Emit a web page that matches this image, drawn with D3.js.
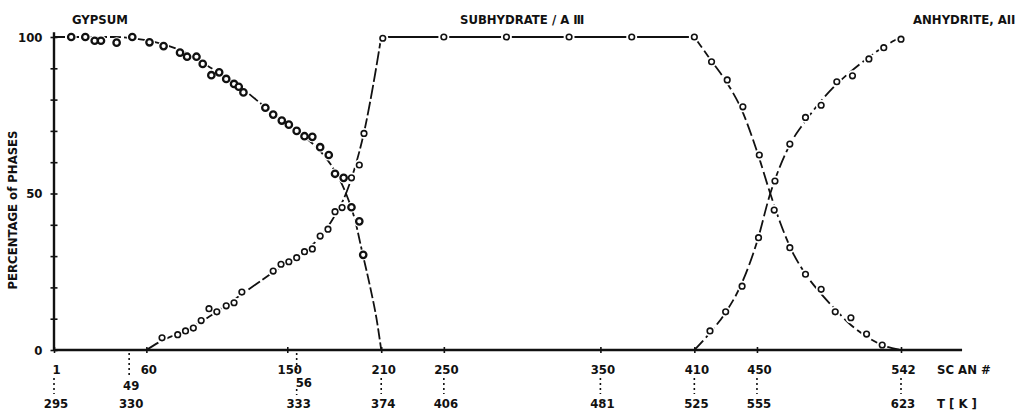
<!DOCTYPE html>
<html>
<head>
<meta charset="utf-8">
<script src="https://cdn.jsdelivr.net/npm/d3@7"></script>
<style>
  body { margin: 0; background: #fff; }
  text { font-family: 'DejaVu Sans Condensed', 'DejaVu Sans', sans-serif; font-stretch: condensed; font-weight: bold; fill: #111; }
</style>
</head>
<body>
<div id="chart"></div>
<script>
// ---- data ----
// measured points (scan number, % phase)
const gypsumScans = [12, 21, 27, 31, 41, 51, 62, 71, 81.5, 86, 92, 96, 101.5, 106.5, 111, 116, 119, 122, 136, 141, 146.5, 151, 156, 161, 166, 171, 176.5, 180.5, 186, 191, 196, 198.5];
const gypsumPct   = [100, 100, 98.8, 98.8, 98.2, 100, 98.3, 97.1, 95, 93.7, 93.7, 91.4, 87.8, 88.7, 86.6, 85, 84.1, 82.3, 77.4, 75.2, 73.3, 72, 70, 68.3, 68.1, 64.8, 62.3, 56.3, 55, 45.6, 41.1, 30.4];

const subScans = [70, 80, 85, 90, 95, 100, 105, 111, 116, 121, 141, 146, 151, 156, 161, 166, 171, 176, 180.5, 185, 191, 196, 199, 211, 250, 290, 330, 370, 410, 421, 431, 441, 451.5, 461, 471, 481, 491, 500, 510, 520, 530];
const subPct   = [3.9, 4.9, 6.1, 7, 9.4, 13.2, 12.2, 14.1, 15.1, 18.5, 25.2, 27.4, 28.2, 29.5, 31.4, 32.3, 36.4, 38.6, 44.2, 45.5, 55, 59.1, 69.2, 99.6, 100, 100, 100, 100, 100, 92.1, 86.3, 77.7, 62.3, 44.7, 32.7, 24.2, 19.4, 12.2, 10.3, 5.1, 1.6];

const anhScans = [420, 430, 440.5, 451, 461.5, 471, 481, 491, 501, 511, 521.5, 531, 542];
const anhPct   = [6.1, 12.2, 20.4, 35.9, 54, 65.8, 74.3, 78.2, 85.7, 87.6, 93, 96.6, 99.3];

// hand-drawn fit curves
const gypsumFitScans = [1, 40, 55, 70, 85, 100, 115, 130, 145, 160, 172, 180, 187.5, 193, 198, 203, 207, 210];
const gypsumFitPct   = [100, 100, 99.3, 97.8, 95, 90.5, 86, 80, 74, 68.5, 63, 57.5, 50, 42, 31, 20, 10, 0];

const subRiseScans = [60, 70, 80, 90, 100, 110, 120, 130, 140, 150, 160, 170, 178, 187.5, 193, 199, 205, 210];
const subRisePct   = [0, 3, 5.2, 7.6, 10.6, 14, 17.5, 21, 24.5, 28, 31.5, 35.5, 41, 50, 58, 69.5, 85, 100];
const subFlatScans = [210, 410];
const subFlatPct   = [100, 100];
const subFallScans = [410, 420, 430, 440, 450, 458.5, 465, 472, 480, 490, 500, 510, 520, 530, 542];
const subFallPct   = [100, 93, 86, 77, 63.5, 50, 40.5, 32, 25, 18.5, 13, 8, 4.3, 1.6, 0];

const anhFitScans = [410, 420, 430, 440, 450, 458.5, 465, 472, 480, 490, 500, 510, 520, 530, 542];
const anhFitPct   = [0, 5.5, 12, 21, 34.5, 50, 59, 66.5, 72.5, 79, 84.5, 89, 93, 96.6, 100];

// axes labels
const scanTicks  = [1, 60, 150, 210, 250, 350, 410, 450, 542];
const extraScans = [49, 156];
const extraLabels = ["49", "56"];
const tempScans  = [1, 49, 156, 210, 250, 350, 410, 450, 542];
const tempLabels = ["295", "330", "333", "374", "406", "481", "525", "555", "623"];
const pctTicks   = d3.range(0, 101, 10);
const pctLabels  = [0, 50, 100];

const phaseNames = ["GYPSUM", "SUBHYDRATE / A Ⅲ", "ANHYDRITE, AII"];

// ---- canvas ----
const width = 1027, height = 415;
const svg = d3.select("#chart").append("svg")
    .attr("width", width)
    .attr("height", height)
    .style("display", "block");

const x = d3.scaleLinear().domain([1, 542]).range([54, 901]);
const y = d3.scaleLinear().domain([0, 100]).range([350, 37]);
const axisEndScan = 581;

const line = d3.line()
    .x(d => x(d[0]))
    .y(d => y(d[1]))
    .curve(d3.curveMonotoneX);
const zipPts = (a, b) => a.map((v, i) => [v, b[i]]);

// fit curves
const fits = [
    [gypsumFitScans, gypsumFitPct, "11,3"],
    [subRiseScans, subRisePct, "14,3"],
    [subFlatScans, subFlatPct, null],
    [subFallScans, subFallPct, "13,4"],
    [anhFitScans, anhFitPct, "13,4"]
];
svg.append("g")
    .selectAll("path")
    .data(fits)
    .enter().append("path")
    .attr("d", d => line(zipPts(d[0], d[1])))
    .attr("fill", "none")
    .attr("stroke", "#111")
    .attr("stroke-width", 1.8)
    .attr("stroke-dasharray", d => d[2]);

// white halos so the lines break around each measured point
const allPts = zipPts(gypsumScans, gypsumPct)
    .concat(zipPts(subScans, subPct))
    .concat(zipPts(anhScans, anhPct));
svg.append("g")
    .selectAll("circle")
    .data(allPts)
    .enter().append("circle")
    .attr("cx", d => x(d[0]))
    .attr("cy", d => y(d[1]))
    .attr("r", 5.5)
    .attr("fill", "#fff");

// ---- axes ----
svg.append("line")
    .attr("x1", x(1)).attr("x2", x(axisEndScan))
    .attr("y1", y(0)).attr("y2", y(0))
    .attr("stroke", "#111").attr("stroke-width", 2.4);
svg.append("line")
    .attr("x1", x(1)).attr("x2", x(1))
    .attr("y1", y(101.5)).attr("y2", y(0))
    .attr("stroke", "#111").attr("stroke-width", 2.4);

const yAxis = svg.append("g")
    .attr("transform", `translate(${x(1)},0)`)
    .call(d3.axisLeft(y).tickValues(pctTicks).tickSize(3.5).tickPadding(8)
        .tickFormat(d => pctLabels.includes(d) ? d : ""));
yAxis.select(".domain").remove();
yAxis.selectAll(".tick line").attr("x1", 3.5).attr("stroke", "#111").attr("stroke-width", 1.6);
yAxis.selectAll("text").style("font-size", "13px");

const xAxis = svg.append("g")
    .attr("transform", `translate(0,${y(0)})`)
    .call(d3.axisBottom(x).tickValues(scanTicks).tickSize(3).tickPadding(12));
xAxis.select(".domain").remove();
xAxis.selectAll(".tick line").attr("y1", -3).attr("stroke", "#111").attr("stroke-width", 1.6);
xAxis.selectAll("text").style("font-size", "13px").attr("dx", 2);

// second-row scan labels
svg.append("g")
    .selectAll("text")
    .data(extraScans)
    .enter().append("text")
    .attr("x", (d, i) => i === 0 ? x(d) + 2 : x(d) - 1)
    .attr("y", (d, i) => i === 0 ? 390 : 387)
    .attr("text-anchor", (d, i) => i === 0 ? "middle" : "start")
    .style("font-size", "13px")
    .text((d, i) => extraLabels[i]);

// temperature labels
svg.append("g")
    .selectAll("text")
    .data(tempScans)
    .enter().append("text")
    .attr("x", d => x(d) + 2)
    .attr("y", 408)
    .attr("text-anchor", "middle")
    .style("font-size", "13px")
    .text((d, i) => tempLabels[i]);

// dotted leaders from scan number down to temperature
const leaders = tempScans.map(s => {
    if (s === 49) return [[s, 353, 376]];
    if (s === 156) return [[s, 353, 371], [s, 389, 395]];
    return [[s, 378, 394]];
}).flat();
svg.append("g")
    .selectAll("line")
    .data(leaders)
    .enter().append("line")
    .attr("x1", d => x(d[0])).attr("x2", d => x(d[0]))
    .attr("y1", d => d[1]).attr("y2", d => d[2])
    .attr("stroke", "#111")
    .attr("stroke-width", 1.6)
    .attr("stroke-dasharray", "2,3");

// axis titles
svg.append("text")
    .attr("x", 937).attr("y", 374)
    .style("font-size", "13px")
    .text("SC AN #");
svg.append("text")
    .attr("x", 937).attr("y", 408)
    .style("font-size", "13px")
    .text("T [ K ]");
svg.append("text")
    .attr("transform", "translate(17,210) rotate(-90)")
    .attr("text-anchor", "middle")
    .style("font-size", "13px")
    .text("PERCENTAGE of PHASES");

// phase names
const nameX = [72, 460, 913];
svg.append("g")
    .selectAll("text")
    .data(phaseNames)
    .enter().append("text")
    .attr("x", (d, i) => nameX[i])
    .attr("y", 24)
    .style("font-size", "13px")
    .text(d => d);

// ---- measured points ----
svg.append("g")
    .selectAll("circle")
    .data(zipPts(gypsumScans, gypsumPct))
    .enter().append("circle")
    .attr("cx", d => x(d[0]))
    .attr("cy", d => y(d[1]))
    .attr("r", 3.2)
    .attr("fill", "#fff")
    .attr("stroke", "#111")
    .attr("stroke-width", 2.3);

svg.append("g")
    .selectAll("circle")
    .data(zipPts(subScans, subPct).concat(zipPts(anhScans, anhPct)))
    .enter().append("circle")
    .attr("cx", d => x(d[0]))
    .attr("cy", d => y(d[1]))
    .attr("r", 2.8)
    .attr("fill", "#fff")
    .attr("stroke", "#111")
    .attr("stroke-width", 1.6);
</script>
</body>
</html>
